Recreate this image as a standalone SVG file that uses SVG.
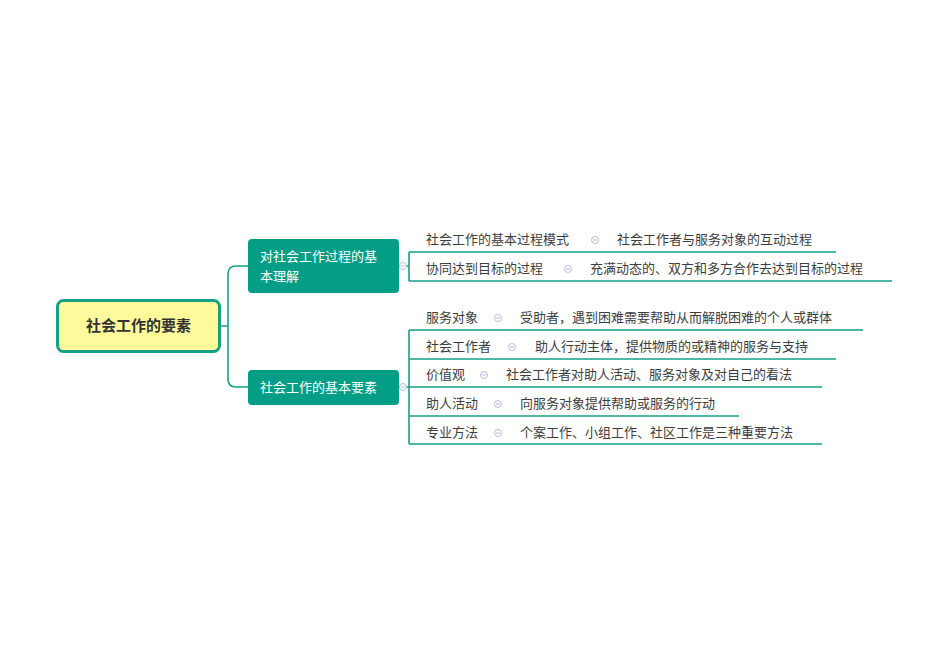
<svg xmlns="http://www.w3.org/2000/svg" width="950" height="672" viewBox="0 0 950 672">
<style>
text{font-family:"Noto Sans CJK SC","Liberation Sans",sans-serif;}
.t{font-size:13px;fill:#3d3d3d;}
.b{font-size:13px;fill:#fff;}
.ln{stroke:#16a088;stroke-width:1.6;fill:none;}
.c{fill:#fff;stroke:#b8bcd8;stroke-width:1;}
.cm{stroke:#b8bcd8;stroke-width:1;}
</style>
<rect width="950" height="672" fill="#fff"/>
<g id="connectors">
<path class="ln" d="M220 326H228M248 266H236Q228 266 228 274V379Q228 387 236 387H248"/>
<path class="ln" d="M399 266H409M409 252V281M409 252H836M409 281H892"/>
<path class="ln" d="M399 387H409M409 330V444M409 330H863M409 359H836M409 387H822M409 416H739M409 444H822"/>
</g>
<g id="root"><rect x="57.5" y="300.5" width="162" height="51" rx="6" fill="#fefa9c" stroke="#16a088" stroke-width="3"/><text x="138.5" y="331" text-anchor="middle" font-size="15" font-weight="bold" fill="#333">社会工作的要素</text></g>
<g id="b1"><rect x="248" y="239" width="151" height="54" rx="4" fill="#049e86"/><text class="b" x="260" y="261">对社会工作过程的基</text><text class="b" x="260" y="281">本理解</text></g>
<g id="b2"><rect x="248" y="370" width="151" height="35" rx="4" fill="#049e86"/><text class="b" x="260" y="392">社会工作的基本要素</text></g>
<g id="toggles">
<circle class="c" cx="403" cy="266" r="3.5"/><line class="cm" x1="401" y1="266" x2="405" y2="266"/>
<circle class="c" cx="403" cy="387" r="3.5"/><line class="cm" x1="401" y1="387" x2="405" y2="387"/>
</g>
<g id="l1"><text class="t" x="426" y="244">社会工作的基本过程模式</text><circle class="c" cx="595" cy="240" r="3.5"/><line class="cm" x1="593" y1="240" x2="597" y2="240"/><text class="t" x="617" y="244">社会工作者与服务对象的互动过程</text></g>
<g id="l2"><text class="t" x="426" y="273">协同达到目标的过程</text><circle class="c" cx="568" cy="269" r="3.5"/><line class="cm" x1="566" y1="269" x2="570" y2="269"/><text class="t" x="590" y="273">充满动态的、双方和多方合作去达到目标的过程</text></g>
<g id="l3"><text class="t" x="426" y="322">服务对象</text><circle class="c" cx="498" cy="318" r="3.5"/><line class="cm" x1="496" y1="318" x2="500" y2="318"/><text class="t" x="520" y="322">受助者，遇到困难需要帮助从而解脱困难的个人或群体</text></g>
<g id="l4"><text class="t" x="426" y="351">社会工作者</text><circle class="c" cx="512" cy="347" r="3.5"/><line class="cm" x1="510" y1="347" x2="514" y2="347"/><text class="t" x="535" y="351">助人行动主体，提供物质的或精神的服务与支持</text></g>
<g id="l5"><text class="t" x="426" y="379">价值观</text><circle class="c" cx="484" cy="375" r="3.5"/><line class="cm" x1="482" y1="375" x2="486" y2="375"/><text class="t" x="506" y="379">社会工作者对助人活动、服务对象及对自己的看法</text></g>
<g id="l6"><text class="t" x="426" y="408">助人活动</text><circle class="c" cx="498" cy="404" r="3.5"/><line class="cm" x1="496" y1="404" x2="500" y2="404"/><text class="t" x="520" y="408">向服务对象提供帮助或服务的行动</text></g>
<g id="l7"><text class="t" x="426" y="437">专业方法</text><circle class="c" cx="498" cy="433" r="3.5"/><line class="cm" x1="496" y1="433" x2="500" y2="433"/><text class="t" x="520" y="437">个案工作、小组工作、社区工作是三种重要方法</text></g>
</svg>
